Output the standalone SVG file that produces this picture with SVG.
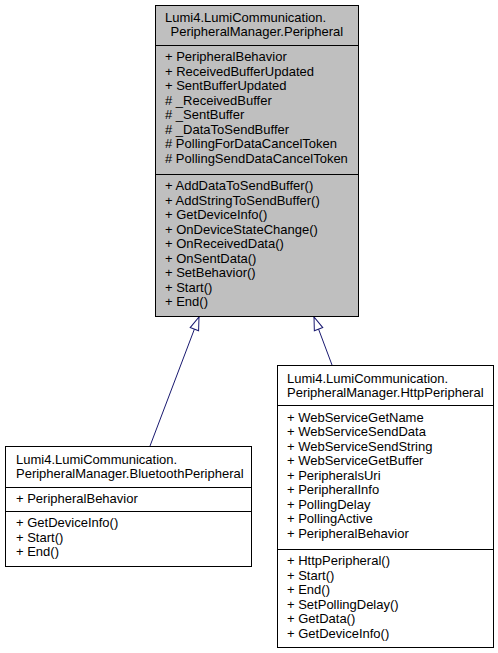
<svg xmlns="http://www.w3.org/2000/svg" width="498" height="653" viewBox="0 0 498 653">
<style>
text{font-family:"Liberation Sans",Arial,sans-serif;font-size:13px;fill:#000}
.box{stroke:#000;stroke-width:1}
.cur{fill:#bfbfbf}
.plain{fill:#fff}
.div{stroke:#000;stroke-width:1}
.edge{stroke:#191970;stroke-width:1;fill:none}
</style>
<defs>
<marker id="inh" viewBox="0 0 13 9" refX="13" refY="4.5" markerWidth="13" markerHeight="9" markerUnits="userSpaceOnUse" orient="auto" overflow="visible">
<path d="M0,0 L13,4.5 L0,9 Z" fill="#fff" stroke="#191970" stroke-width="1"/>
</marker>
</defs>
<rect width="498" height="653" fill="#fff"/>
<g id="edges">
<line class="edge" x1="150" y1="446" x2="199" y2="317" marker-end="url(#inh)"/>
<line class="edge" x1="332" y1="365" x2="314" y2="317" marker-end="url(#inh)"/>
</g>
<g id="Peripheral" transform="translate(0,1)">
<rect class="box cur" x="155.5" y="4.5" width="203" height="311"/>
<line class="div" x1="155.5" y1="44.5" x2="358.5" y2="44.5"/>
<line class="div" x1="155.5" y1="173.5" x2="358.5" y2="173.5"/>
<text x="165" y="21">Lumi4.LumiCommunication.</text>
<text x="170.5" y="35">PeripheralManager.Peripheral</text>
<text x="165" y="60">+ PeripheralBehavior</text>
<text x="165" y="74.5">+ ReceivedBufferUpdated</text>
<text x="165" y="89">+ SentBufferUpdated</text>
<text x="165" y="103.5"># _ReceivedBuffer</text>
<text x="165" y="118"># _SentBuffer</text>
<text x="165" y="132.5"># _DataToSendBuffer</text>
<text x="165" y="147"># PollingForDataCancelToken</text>
<text x="165" y="161.5"># PollingSendDataCancelToken</text>
<text x="165" y="189">+ AddDataToSendBuffer()</text>
<text x="165" y="203.5">+ AddStringToSendBuffer()</text>
<text x="165" y="218">+ GetDeviceInfo()</text>
<text x="165" y="232.5">+ OnDeviceStateChange()</text>
<text x="165" y="247">+ OnReceivedData()</text>
<text x="165" y="261.5">+ OnSentData()</text>
<text x="165" y="276">+ SetBehavior()</text>
<text x="165" y="290.5">+ Start()</text>
<text x="165" y="305">+ End()</text>
</g>
<g id="BluetoothPeripheral" transform="translate(0,1)">
<rect class="box plain" x="5.5" y="445.5" width="246" height="120"/>
<line class="div" x1="5.5" y1="486.5" x2="251.5" y2="486.5"/>
<line class="div" x1="5.5" y1="510.5" x2="251.5" y2="510.5"/>
<text x="16" y="463">Lumi4.LumiCommunication.</text>
<text x="16" y="477">PeripheralManager.BluetoothPeripheral</text>
<text x="16" y="501.5">+ PeripheralBehavior</text>
<text x="16" y="526">+ GetDeviceInfo()</text>
<text x="16" y="540.5">+ Start()</text>
<text x="16" y="555">+ End()</text>
</g>
<g id="HttpPeripheral" transform="translate(0,1)">
<rect class="box plain" x="277.5" y="364.5" width="216" height="282"/>
<line class="div" x1="277.5" y1="404.5" x2="493.5" y2="404.5"/>
<line class="div" x1="277.5" y1="548.5" x2="493.5" y2="548.5"/>
<text x="287" y="382">Lumi4.LumiCommunication.</text>
<text x="287" y="396">PeripheralManager.HttpPeripheral</text>
<text x="287" y="420.5">+ WebServiceGetName</text>
<text x="287" y="435">+ WebServiceSendData</text>
<text x="287" y="449.5">+ WebServiceSendString</text>
<text x="287" y="464">+ WebServiceGetBuffer</text>
<text x="287" y="478.5">+ PeripheralsUri</text>
<text x="287" y="493">+ PeripheralInfo</text>
<text x="287" y="507.5">+ PollingDelay</text>
<text x="287" y="522">+ PollingActive</text>
<text x="287" y="536.5">+ PeripheralBehavior</text>
<text x="287" y="564">+ HttpPeripheral()</text>
<text x="287" y="578.5">+ Start()</text>
<text x="287" y="593">+ End()</text>
<text x="287" y="607.5">+ SetPollingDelay()</text>
<text x="287" y="622">+ GetData()</text>
<text x="287" y="636.5">+ GetDeviceInfo()</text>
</g>
</svg>
